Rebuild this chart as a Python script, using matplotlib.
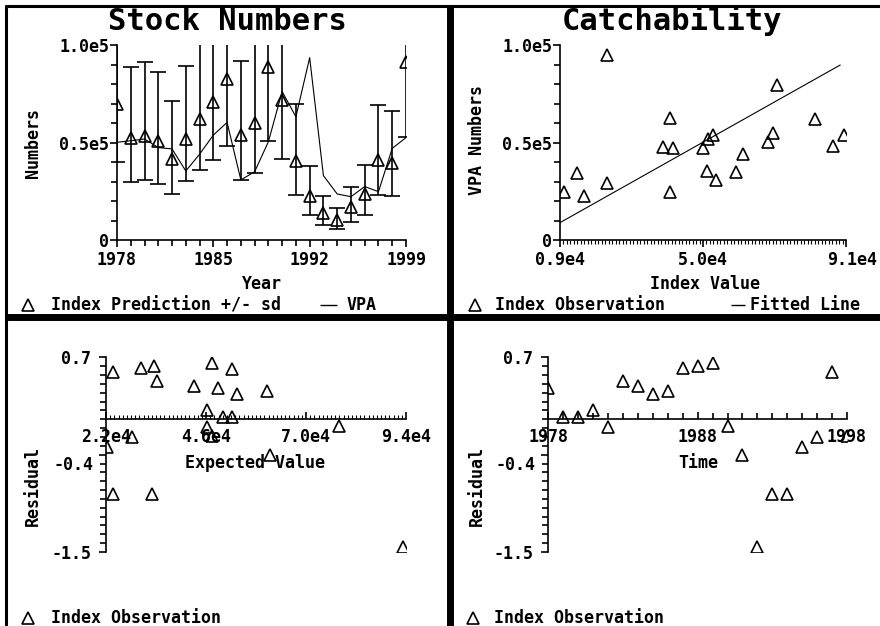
import matplotlib
matplotlib.use("Agg")
import matplotlib.pyplot as plt
from matplotlib.lines import Line2D
from matplotlib.ticker import MultipleLocator, FixedLocator
from matplotlib.transforms import blended_transform_factory, ScaledTranslation

W, H = 880, 626

# ---------- data ----------
years = list(range(1978, 2000))

# Stock Numbers panel: index prediction with +/- sd bars, VPA line
index_pred = [69900, 52500, 53500, 50800, 41700, 51800, 62100, 70600, 82400, 54000, 60000,
              88500, 71600, 40700, 22700, 13800, 10400, 16900, 23400, 41000, 39500, 91500]
sd_low = [40200, 29700, 30800, 28700, 23800, 30300, 35900, 41000, 48200, 30800, 34500,
          50800, 41700, 23100, 12600, 7700, 5600, 9100, 12600, 23100, 22600, 53000]
sd_high = [119000, 88500, 91500, 86300, 71300, 89100, 107000, 121000, 140000, 92000, 103000,
           150000, 122000, 69700, 37900, 22700, 16600, 27200, 38500, 69200, 66200, 155000]
vpa = [50100, 50900, 51800, 47400, 46700, 35400, 44000, 53800, 60300, 30800, 35000,
       50400, 76100, 63200, 93500, 33000, 23600, 22200, 27400, 24800, 47000, 52500]

# Catchability panel
catch_index = [10200, 14000, 15900, 22400, 22600, 38400, 40500, 41300, 40400, 50100, 51500,
               52800, 51200, 53700, 59500, 61400, 68700, 70000, 71100, 82100, 87400, 90400]
catch_vpa = [24800, 34200, 22600, 94900, 29100, 47900, 62400, 47000, 24800, 47000, 51600,
             53800, 35400, 30800, 34700, 44100, 50400, 54700, 79500, 61900, 48400, 53800]
fit_x = [9000, 89300]
fit_y = [8900, 89700]

# Residual panels
expected = [48960, 50160, 52320, 46320, 46320, 34320, 43120, 53520, 60560, 30320, 33520,
            47360, 77920, 61360, 93360, 32960, 23760, 22320, 28160, 23760, 47520, 52320]
residual = [0.35, 0.03, 0.02, 0.10, -0.09, 0.43, 0.38, 0.29, 0.32, 0.58, 0.60,
            0.63, -0.08, -0.40, -1.44, -0.85, -0.85, -0.31, -0.20, 0.53, -0.19, 0.57]

# ---------- style ----------
plt.rcParams["font.family"] = ["DejaVu Sans Mono", "DejaVu Sans"]
plt.rcParams["font.weight"] = "bold"
FS = 12
LW = 1.2
TRI = dict(marker="^", ms=8, mfc="none", mec="k", mew=LW, ls="none")

fig = plt.figure(figsize=(W / 100, H / 100), dpi=100)


def fx(x):
    return x / W


def fy(y):
    return 1 - y / H


def axes_px(x0, y_top, x1, y_bot):
    return fig.add_axes([x0 / W, 1 - y_bot / H, (x1 - x0) / W, (y_bot - y_top) / H])


def ftext(x, y, s, **kw):
    kw.setdefault("size", FS)
    kw.setdefault("weight", "bold")
    fig.text(fx(x), fy(y), s, **kw)


def fig_line(xs, ys, lw):
    fig.add_artist(Line2D([fx(v) for v in xs], [fy(v) for v in ys], color="k", lw=lw,
                          transform=fig.transFigure, solid_capstyle="butt"))


def legend_tri(x, y):
    fig.add_artist(Line2D([fx(x)], [fy(y)], transform=fig.transFigure, **TRI))


def base_axes(ax):
    for s in ("top", "right"):
        ax.spines[s].set_visible(False)
    for s in ("left", "bottom"):
        ax.spines[s].set_linewidth(LW)
    ax.patch.set_alpha(0)
    ax.tick_params(which="both", width=LW, labelsize=FS)


# ---------- Stock Numbers ----------
ax1 = axes_px(117, 45, 406, 240)
base_axes(ax1)
ax1.set_xlim(1978, 1999)
ax1.set_ylim(0, 100000)
ax1.xaxis.set_major_locator(FixedLocator([1978, 1985, 1992, 1999]))
ax1.xaxis.set_minor_locator(MultipleLocator(1))
ax1.set_yticks([0, 50000, 100000], ["0", "0.5e5", "1.0e5"])
ax1.yaxis.set_minor_locator(MultipleLocator(10000))
ax1.tick_params(axis="x", which="major", length=5, pad=3)
ax1.tick_params(axis="x", which="minor", length=4)
ax1.tick_params(axis="y", which="major", length=5, pad=0.5)
ax1.tick_params(axis="y", which="minor", length=4)

err = [[p - lo for p, lo in zip(index_pred, sd_low)],
       [hi - p for p, hi in zip(index_pred, sd_high)]]
ax1.errorbar(years, index_pred, yerr=err, fmt="^", ms=8, mfc="none", mec="k", mew=LW,
             ecolor="k", elinewidth=LW, capsize=5.5, capthick=LW)
ax1.plot(years, vpa, color="k", lw=0.8)

ftext(227.5, 21, "Stock Numbers", size=22, ha="center", va="center")
ftext(262, 284, "Year", ha="center", va="center")
ftext(33, 143, "Numbers", ha="center", va="center", rotation=90)
legend_tri(28, 305)
ftext(51, 305, "Index Prediction +/- sd", ha="left", va="center")
fig_line([320, 337], [305, 305], 1.0)
ftext(347, 305, "VPA", ha="left", va="center")

# ---------- Catchability ----------
ax2 = axes_px(560, 45, 846, 240)
base_axes(ax2)
ax2.set_xlim(9000, 91000)
ax2.set_ylim(0, 100000)
ax2.set_xticks([9000, 50000, 91000], ["0.9e4", "5.0e4", "9.1e4"])
ax2.xaxis.set_minor_locator(MultipleLocator(1000))
ax2.set_yticks([0, 50000, 100000], ["0", "0.5e5", "1.0e5"])
ax2.yaxis.set_minor_locator(MultipleLocator(10000))
ax2.tick_params(axis="x", which="major", length=5, pad=3)
ax2.tick_params(axis="x", which="minor", length=3, width=0.8)
ax2.tick_params(axis="y", which="major", length=5, pad=0.5)
ax2.tick_params(axis="y", which="minor", length=4)
# last x label sits a little right of its tick in the original
last = ax2.get_xticklabels()[-1]
last.set_transform(last.get_transform() + ScaledTranslation(0.06, 0, fig.dpi_scale_trans))

ax2.plot(catch_index, catch_vpa, **TRI)
ax2.plot(fit_x, fit_y, color="k", lw=0.8)

ftext(672, 21, "Catchability", size=22, ha="center", va="center")
ftext(705, 284, "Index Value", ha="center", va="center")
ftext(477, 140, "VPA Numbers", ha="center", va="center", rotation=90)
legend_tri(475, 305)
ftext(495, 305, "Index Observation", ha="left", va="center")
fig_line([731, 745], [305, 305], 1.0)
ftext(750, 305, "Fitted Line", ha="left", va="center")


# ---------- Residual panels ----------
def resid_axes(ax):
    base_axes(ax)
    ax.spines["bottom"].set_position(("data", 0))
    ax.set_ylim(-1.5, 0.7)
    ax.set_yticks([-1.5, -0.4, 0.7], ["-1.5", "", "0.7"])
    ax.yaxis.set_minor_locator(MultipleLocator(0.1))
    ax.tick_params(axis="y", which="major", length=5, pad=5.8)
    ax.tick_params(axis="y", which="minor", length=4)
    ax.tick_params(axis="x", which="major", direction="in", length=5, pad=6)
    ax.tick_params(axis="x", which="minor", direction="in", length=4)
    tr = blended_transform_factory(ax.transAxes, ax.transData)
    ax.text(-13 / 300, -0.52, "-0.4", transform=tr, ha="right", va="center",
            size=FS, weight="bold")


ax3 = axes_px(106, 357.3, 406, 552)
resid_axes(ax3)
ax3.set_xlim(22000, 94000)
ax3.set_xticks([22000, 46000, 70000, 94000], ["2.2e4", "4.6e4", "7.0e4", "9.4e4"])
ax3.xaxis.set_minor_locator(MultipleLocator(1000))
ax3.tick_params(axis="x", which="minor", length=3, width=0.8)
ax3.plot(expected, residual, **TRI)
ftext(255, 463, "Expected Value", ha="center", va="center")
ftext(33, 486, "Residual", ha="center", va="center", rotation=90)
legend_tri(28, 618)
ftext(51, 618, "Index Observation", ha="left", va="center")

ax4 = axes_px(548.3, 357.3, 847, 552)
resid_axes(ax4)
ax4.set_xlim(1978, 1998)
ax4.set_xticks([1978, 1988, 1998], ["1978", "1988", "1998"])
ax4.xaxis.set_minor_locator(MultipleLocator(1))
ax4.plot(years, residual, **TRI)
ftext(698, 463, "Time", ha="center", va="center")
ftext(477, 486, "Residual", ha="center", va="center", rotation=90)
legend_tri(473, 618)
ftext(494, 618, "Index Observation", ha="left", va="center")

# ---------- panel borders ----------
fig_line([4.5, 880], [5.5, 5.5], 2.2)
fig_line([6, 6], [4.5, 626], 2.2)
fig_line([450, 450], [4.5, 626], 5)
fig_line([4.5, 880], [317, 317], 5)

fig.savefig("out.png", dpi=100)
